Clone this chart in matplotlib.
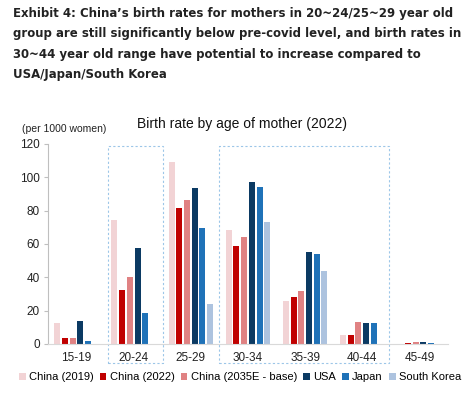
import numpy as np
import matplotlib
matplotlib.use('Agg')
import matplotlib.pyplot as plt
from matplotlib.patches import Rectangle

# Data
age_groups = ['15-19', '20-24', '25-29', '30-34', '35-39', '40-44', '45-49']
series_names = ['China (2019)', 'China (2022)', 'China (2035E - base)', 'USA', 'Japan', 'South Korea']
china_2019 = [12.6, 74.4, 109.0, 68.6, 25.9, 5.2, 0.2]
china_2022 = [3.4, 32.7, 81.4, 58.6, 28.3, 5.6, 0.5]
china_2035e = [3.4, 40.1, 86.4, 64.2, 31.9, 13.2, 1.2]
usa = [13.6, 57.5, 93.8, 97.5, 55.5, 12.6, 1.0]
japan = [1.8, 18.5, 69.8, 94.0, 53.8, 12.4, 0.8]
south_korea = [0.3, 0.0, 24.1, 73.4, 44.1, 0.0, 0.3]
colors = ['#f2d3d5', '#c00000', '#e08283', '#0b3a63', '#1f72b8', '#adc3df']

plt.rcParams['font.family'] = ['Liberation Sans', 'DejaVu Sans']

fig = plt.figure(figsize=(4.74, 3.98), dpi=100)
W, H = 474, 398
ax = fig.add_axes([48 / W, 54 / H, 400 / W, 200 / H])

x = np.arange(len(age_groups))
all_series = [china_2019, china_2022, china_2035e, usa, japan, south_korea]
step = 0.135
width = 0.105
for i, (vals, name, c) in enumerate(zip(all_series, series_names, colors)):
    ax.bar(x + (i - 2.5) * step, vals, width, color=c, label=name)

ax.set_xlim(-0.5, 6.5)
ax.set_ylim(0, 120)
ax.set_yticks(range(0, 121, 20))
ax.set_xticks(x)
ax.set_xticklabels(age_groups, fontsize=8.5, color='#222222')
ax.tick_params(axis='x', length=0, pad=6)
ax.tick_params(axis='y', length=3, color='#bfbfbf', labelsize=8.5, labelcolor='#222222', pad=3)
for s in ['top', 'right']:
    ax.spines[s].set_visible(False)
ax.spines['left'].set_color('#bfbfbf')
ax.spines['bottom'].set_color('#d9d9d9')

# dashed highlight boxes
for x0, x1 in [(0.55, 1.51), (2.49, 5.47)]:
    ax.add_patch(Rectangle((x0, -11.4), x1 - x0, 130.5, fill=False, ls=(0, (2, 2)),
                           ec='#9cc6e8', lw=0.8, clip_on=False))

fig.text(242 / W, 1 - 124 / H, 'Birth rate by age of mother (2022)', ha='center', va='center',
         fontsize=10, color='#111111')
fig.text(22 / W, 1 - 129 / H, '(per 1000 women)', ha='left', va='center', fontsize=7.5,
         color='#222222')

fig.text(13 / W, 1 - 7 / H,
         'Exhibit 4: China\u2019s birth rates for mothers in 20~24/25~29 year old\n'
         'group are still significantly below pre-covid level, and birth rates in\n'
         '30~44 year old range have potential to increase compared to\n'
         'USA/Japan/South Korea',
         ha='left', va='top', fontsize=9.4, fontweight='bold', color='#222222',
         family='DejaVu Sans', fontstretch='condensed',
         linespacing=1.74)

handles, labels = ax.get_legend_handles_labels()
fig.legend(handles, labels, loc='center', bbox_to_anchor=(240 / W, 1 - 377 / H), ncol=6,
           frameon=False, fontsize=8, handlelength=0.6, handleheight=0.6,
           handletextpad=0.3, columnspacing=0.55, borderpad=0)

fig.savefig('out.png', dpi=100)
